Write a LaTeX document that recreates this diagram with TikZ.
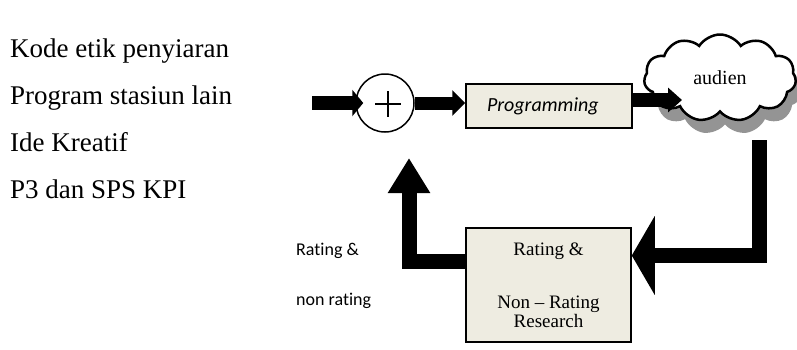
\documentclass[tikz,border=0pt]{standalone}
\usepackage{fontspec}
\setmainfont{Liberation Serif}
\newfontfamily\calibrifont[Ligatures=NoCommon]{Carlito}
\usetikzlibrary{arrows.meta,shapes.symbols,shadows}
\definecolor{boxfill}{HTML}{EEECE1}
\begin{document}
\begin{tikzpicture}[x=1pt,y=-1pt,
  srcline/.style={anchor=base west, inner sep=0, font=\fontsize{27}{32}\selectfont},
  sidelabel/.style={anchor=base west, inner sep=0, font=\calibrifont\fontsize{18}{20}\selectfont},
  procbox/.style={draw=black, line width=1.5pt, fill=boxfill, inner sep=0},
  flowline/.style={draw=black, line width=#1, line join=miter}]
\useasboundingbox (0,0) rectangle (797,349);

% inputs
\node[srcline] (l1) at (10,57) {Kode etik penyiaran};
\node[srcline] (l2) at (10,104) {Program stasiun lain};
\node[srcline] (l3) at (10,151) {Ide Kreatif};
\node[srcline] (l4) at (10,198) {P3 dan SPS KPI};

% summing junction
\node[draw, circle, line width=1.5pt, fill=white, minimum size=58pt, inner sep=0] (sum) at (385,103) {};
\coordinate (pc) at ([shift={(3,1)}]sum.center);
\draw[line width=1.5pt] (pc) ++(-13,0) -- ++(26,0);
\draw[line width=1.5pt] (pc) ++(0,-13) -- ++(0,26);

% programming block
\node[procbox, text width=124pt, minimum height=44pt, inner xsep=21pt, align=left,
      font=\calibrifont\itshape\fontsize{20}{24}\selectfont] (prog) at (549,106) {Programming};

% audience cloud
\node[cloud, cloud puffs=11, cloud puff arc=115, cloud ignores aspect, draw, line width=2.5pt, fill=white,
      minimum width=152pt, minimum height=87pt, inner sep=0,
      drop shadow={shadow xshift=5pt, shadow yshift=-13pt, fill=black!42, opacity=1},
      font=\fontsize{20}{24}\selectfont] (cloud) at (720,78) {audien};

% research block
\node[procbox, minimum width=165pt, minimum height=114pt, align=center,
      font=\fontsize{19}{19}\selectfont] (rating) at (548.5,285) {Rating \&\\[34pt]Non – Rating\\Research};

% feedback labels
\node[sidelabel] (rl1) at (296,255) {Rating \&};
\node[sidelabel] (rl2) at (296,305) {non rating};

% connectors
\coordinate (src) at (312,103);
\coordinate (cin) at (682,100);
\coordinate (drop) at (759.5,140);
\coordinate (fb) at (409,158);

\draw[flowline=14pt, -{Triangle[length=11pt,width=26pt]}] (src) -- ([xshift=8pt]sum.west);
\draw[flowline=13pt, -{Triangle[length=13pt,width=25pt]}] (sum.east) -- (sum.east -| prog.west);
\draw[flowline=14pt, -{Triangle[length=14pt,width=24pt]}] (prog.east |- cin) -- (cin);
\draw[flowline=15pt, -{Triangle[length=23pt,width=78pt]}] (drop) |- ([yshift=29.5pt]rating.east);
\draw[flowline=15pt, -{Triangle[length=35pt,width=40pt]}] ([yshift=24pt]rating.west) -| (fb);
\end{tikzpicture}
\end{document}
